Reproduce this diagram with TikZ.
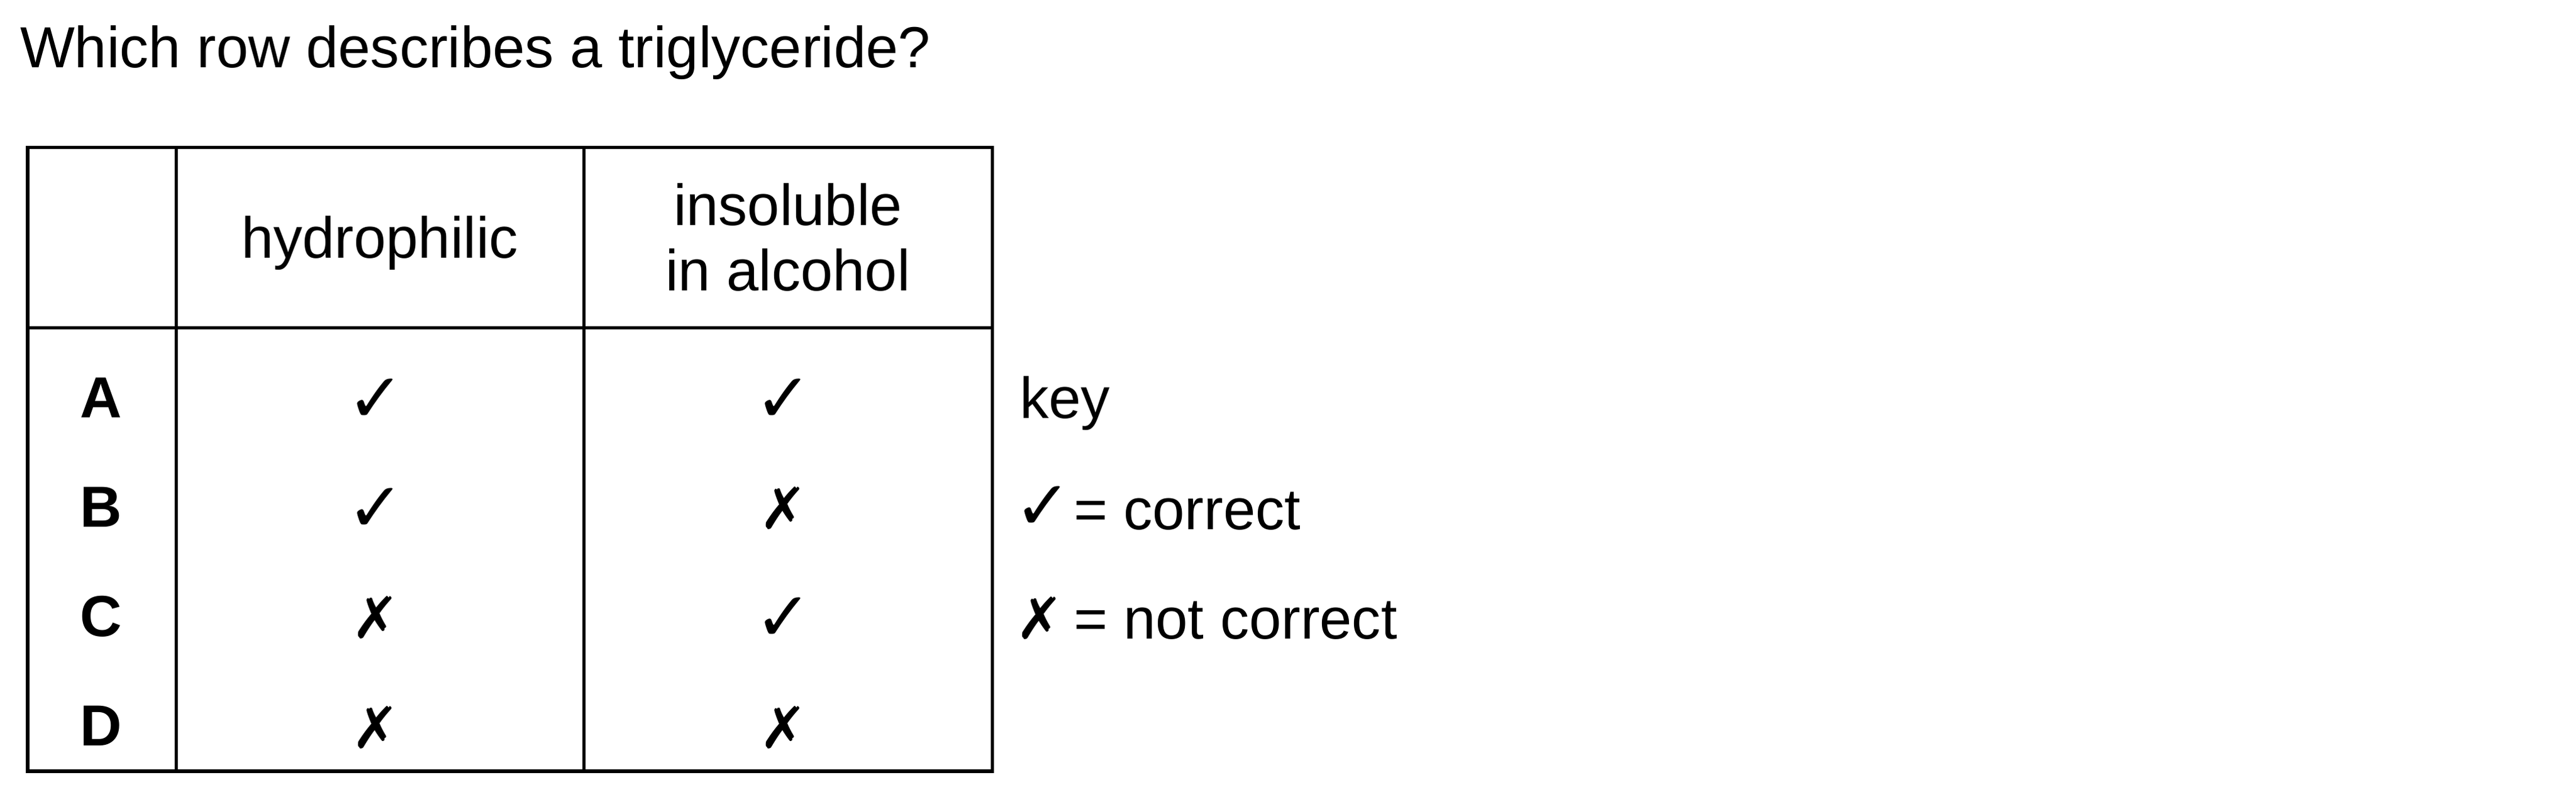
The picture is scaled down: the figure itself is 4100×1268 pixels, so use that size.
\documentclass[tikz,border=0pt]{standalone}
\usepackage{fontspec}
\setmainfont{Liberation Sans}
\newfontfamily\symfont{DejaVu Sans}
\newcommand{\yes}{{\fontsize{31}{34}\selectfont\symfont\bfseries ✓}}
\newcommand{\nope}{{\fontsize{26}{30}\selectfont\symfont\bfseries ✗}}
\begin{document}
\begin{tikzpicture}[x=0.01cm,y=-0.01cm,
  txt/.style={inner sep=0pt,outer sep=0pt,font=\fontsize{26.2}{30.1}\selectfont},
  lbl/.style={txt,anchor=base,font=\fontsize{26.2}{30.1}\selectfont\bfseries},
  tick/.style={txt,anchor=base},
  keytxt/.style={txt,anchor=base west},
  grid/.style={line width=0.05cm,line cap=rect}]
\useasboundingbox (0,0) rectangle (4100,1268);
% title
\node[keytxt] (title) at (32,108) {Which row describes a triglyceride?};
% table lines
\coordinate (tl) at (44,235);
\coordinate (br) at (1579,1227);
\draw[grid] (tl) rectangle (br);
\coordinate (h1) at (44,522);
\coordinate (h2) at (1579,522);
\draw[grid] (h1) -- (h2);
\coordinate (c1t) at (280,235);
\coordinate (c1b) at (280,1227);
\draw[grid] (c1t) -- (c1b);
\coordinate (c2t) at (929,235);
\coordinate (c2b) at (929,1227);
\draw[grid] (c2t) -- (c2b);
% header
\node[txt,anchor=base] (hyd) at (604.5,411) {hydrophilic};
\node[txt,anchor=base] (ins1) at (1254,359) {insoluble};
\node[txt,anchor=base] (ins2) at (1254,463) {in alcohol};
% row labels
\node[lbl] (rA) at (161,665) {A};
\node[lbl] (rB) at (161,839) {B};
\node[lbl] (rC) at (161,1013) {C};
\node[lbl] (rD) at (161,1187) {D};
% ticks and crosses
\node[tick] (mA1) at (598,672) {\yes};
\node[tick] (mA2) at (1247,672) {\yes};
\node[tick] (mB1) at (598,846) {\yes};
\node[tick] (mB2) at (1247,842) {\nope};
\node[tick] (mC1) at (598,1016) {\nope};
\node[tick] (mC2) at (1247,1020) {\yes};
\node[tick] (mD1) at (598,1190) {\nope};
\node[tick] (mD2) at (1247,1190) {\nope};
% key
\node[keytxt] (key) at (1623,666) {key};
\node[keytxt] (kc) at (1614,843) {\makebox[0.95cm][l]{\yes}= correct};
\node[keytxt] (kn) at (1616,1017) {\makebox[0.93cm][l]{\nope}= not correct};
\end{tikzpicture}
\end{document}
